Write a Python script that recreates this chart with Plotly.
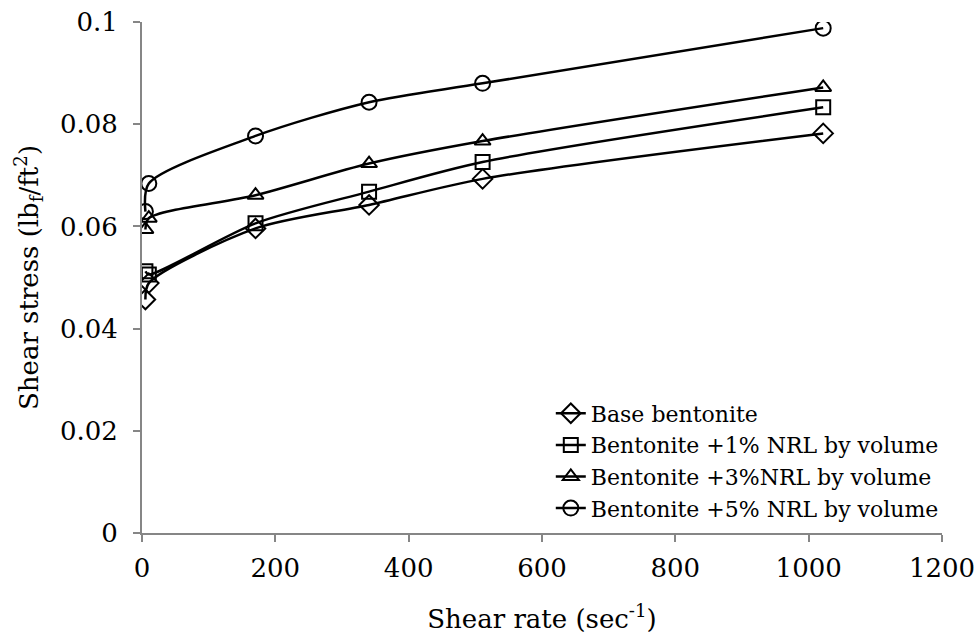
import plotly.graph_objects as go

shear_rate = [5.11, 10.22, 170.3, 340.6, 510.9, 1021.8]
base_bentonite = [0.0457, 0.0489, 0.0596, 0.0642, 0.0693, 0.0782]
nrl_1 = [0.0512, 0.0506, 0.0606, 0.0668, 0.0726, 0.0833]
nrl_3 = [0.0594, 0.0616, 0.0661, 0.0723, 0.0767, 0.0872]
nrl_5 = [0.0629, 0.0684, 0.0777, 0.0843, 0.0880, 0.0988]

names = ["Base bentonite", "Bentonite +1% NRL by volume",
         "Bentonite +3%NRL by volume", "Bentonite +5% NRL by volume"]
series = [base_bentonite, nrl_1, nrl_3, nrl_5]
symbols = ["diamond-open", "square-open", "triangle-up-open", "circle-open"]
sizes = [15, 14, 14, 15]

FF = "DejaVu Serif"

fig = go.Figure()
for n, s, sym, sz in zip(names, series, symbols, sizes):
    fig.add_trace(go.Scatter(
        x=shear_rate, y=s, name=n, mode="lines+markers",
        line=dict(color="black", width=2.5, shape="spline", smoothing=0.8),
        marker=dict(symbol=sym, size=sz, color="black",
                    line=dict(color="black", width=2)),
    ))

fig.update_layout(
    width=974, height=642,
    margin=dict(l=142, r=32, t=22, b=109, autoexpand=False),
    paper_bgcolor="white", plot_bgcolor="white",
    font=dict(family=FF, size=26, color="black"),
    showlegend=True,
    legend=dict(x=0.511, y=0.275, xanchor="left", yanchor="top",
                font=dict(size=22, family=FF, color="black"),
                bgcolor="rgba(0,0,0,0)", tracegroupgap=0),
)
fig.update_xaxes(
    range=[0, 1200], tick0=0, dtick=200, showgrid=False, zeroline=False,
    showline=True, linecolor="#868686", linewidth=2,
    ticks="outside", tickcolor="#868686", ticklen=7, tickwidth=1.5,
    ticklabeloverflow="allow", ticklabelstandoff=4,
    tickfont=dict(size=26, family=FF, color="black"),
    title=dict(text="Shear rate (sec<sup>-1</sup>)", font=dict(size=26, family=FF, color="black"), standoff=28),
)
fig.update_yaxes(
    range=[0, 0.1], tick0=0, dtick=0.02, showgrid=False, zeroline=False,
    showline=True, linecolor="#868686", linewidth=2,
    ticks="outside", tickcolor="#868686", ticklen=7, tickwidth=1.5,
    tickformat="~g", ticklabeloverflow="allow", ticklabelstandoff=10,
    tickfont=dict(size=26, family=FF, color="black"),
    title=dict(text="Shear stress (lb<sub>f</sub>/ft<sup>2</sup>)", font=dict(size=26, family=FF, color="black"), standoff=14),
)
fig.write_html("out.html")
